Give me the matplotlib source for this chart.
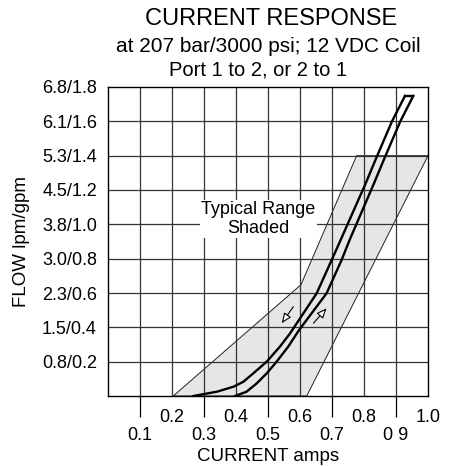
import matplotlib
matplotlib.use("Agg")
import matplotlib.pyplot as plt
from matplotlib.patches import Polygon

plt.rcParams['font.family'] = ['Liberation Sans', 'DejaVu Sans']

# typical range (shaded band)
band_x = [0.204, 0.603, 0.777, 1.000, 0.621]
band_y = [0.000, 0.648, 1.400, 1.400, 0.000]

# decreasing current curve
down_x = [0.267, 0.340, 0.392, 0.423, 0.454, 0.496, 0.537, 0.569, 0.610, 0.652,
          0.699, 0.727, 0.803, 0.840, 0.887, 0.928]
down_y = [0.000, 0.025, 0.054, 0.083, 0.132, 0.200, 0.287, 0.365, 0.480, 0.598,
          0.792, 0.909, 1.229, 1.394, 1.598, 1.748]

# increasing current curve
up_x = [0.397, 0.433, 0.465, 0.496, 0.527, 0.563, 0.597, 0.683, 0.730, 0.755,
        0.829, 0.866, 0.913, 0.954]
up_y = [0.000, 0.025, 0.074, 0.132, 0.200, 0.287, 0.384, 0.598, 0.792, 0.909,
        1.229, 1.394, 1.598, 1.748]

y_ticks = [0.2, 0.4, 0.6, 0.8, 1.0, 1.2, 1.4, 1.6, 1.8]
y_labels = ["0.8/0.2", "1.5/0.4", "2.3/0.6", "3.0/0.8", "3.8/1.0",
            "4.5/1.2", "5.3/1.4", "6.1/1.6", "6.8/1.8"]
x_odd = [0.1, 0.3, 0.5, 0.7, 0.9]
x_odd_labels = ["0.1", "0.3", "0.5", "0.7", "0 9"]
x_even = [0.2, 0.4, 0.6, 0.8, 1.0]
x_even_labels = ["0.2", "0.4", "0.6", "0.8", "1.0"]

fig = plt.figure(figsize=(4.53, 4.66), dpi=100)
ax = fig.add_axes([108/453, 1 - 396/466, 320/453, 309/466])

ax.add_patch(Polygon(list(zip(band_x, band_y)), closed=True,
                     facecolor='#e6e6e6', edgecolor='#222222', lw=0.7, zorder=1))

# grid
for gx in x_odd + x_even[:-1]:
    ax.axvline(gx, color='#333333', lw=0.9, zorder=2)
for gy in y_ticks[:-1]:
    ax.axhline(gy, color='#333333', lw=0.9, zorder=2)

# hysteresis loop
ax.plot(down_x, down_y, color='black', lw=1.7, zorder=4, solid_joinstyle='round')
ax.plot(up_x, up_y, color='black', lw=1.7, zorder=4, solid_joinstyle='round')
ax.plot([down_x[-1], up_x[-1]], [down_y[-1], up_y[-1]], color='black', lw=1.7, zorder=4)

arrow = dict(arrowstyle='-|>,head_length=0.6,head_width=0.25', color='black',
             fc='white', lw=0.8, shrinkA=0, shrinkB=0)
ax.annotate("", xy=(0.543, 0.424), xytext=(0.579, 0.520), arrowprops=arrow, zorder=5)
ax.annotate("", xy=(0.683, 0.511), xytext=(0.642, 0.424), arrowprops=arrow, zorder=5)

ax.text(0.470, 1.031, "Typical Range\nShaded", ha='center', va='center',
        fontsize=13, linespacing=1.2, zorder=6,
        bbox=dict(facecolor='white', edgecolor='none', pad=0.8))

ax.set_xlim(0, 1.0)
ax.set_ylim(0, 1.8)
for s in ax.spines.values():
    s.set_linewidth(1.0)
    s.set_zorder(7)

ax.set_yticks(y_ticks)
ax.set_yticklabels(y_labels, fontsize=13)
ax.tick_params(axis='y', length=0, pad=8)

ax.set_xticks(x_odd)
ax.set_xticklabels(x_odd_labels, fontsize=13)
ax.set_xticks(x_even, minor=True)
ax.set_xticklabels(x_even_labels, minor=True, fontsize=13)
ax.tick_params(axis='x', which='major', length=15, width=0.9, pad=7, direction='out')
ax.tick_params(axis='x', which='minor', length=0, pad=9)

ax.set_xlabel("CURRENT amps", fontsize=13.5)
ax.xaxis.set_label_coords(0.5, -(448 - 396) / 309)
ax.set_ylabel("FLOW lpm/gpm", fontsize=13.5)
ax.yaxis.set_label_coords((30 - 108) / 320, 0.5)

fig.text(271/453, 1 - 19/466, "CURRENT RESPONSE", ha='center', va='center', fontsize=17)
fig.text(268/453, 1 - 46/466, "at 207 bar/3000 psi; 12 VDC Coil", ha='center', va='center', fontsize=15)
fig.text(258/453, 1 - 70/466, "Port 1 to 2, or 2 to 1", ha='center', va='center', fontsize=14.5)

fig.savefig("out.png", dpi=100)
